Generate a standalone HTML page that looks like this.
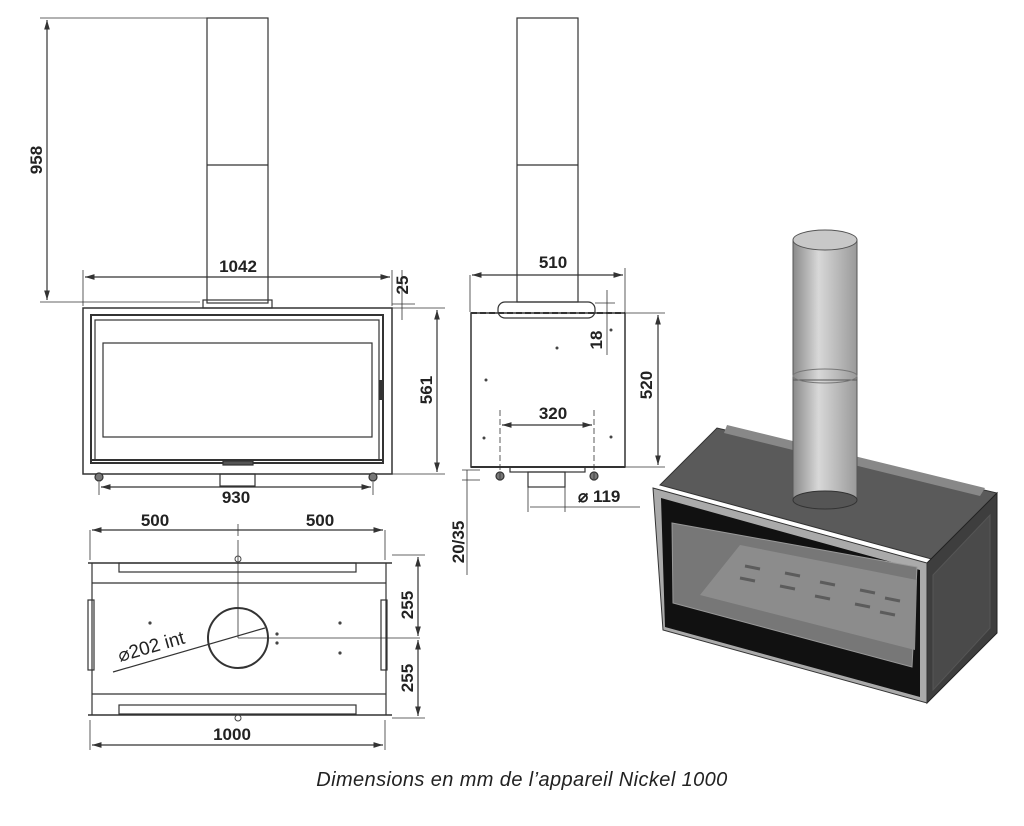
<!DOCTYPE html>
<html><head><meta charset="utf-8"><style>
html,body{margin:0;padding:0;background:#fff}
svg{display:block}
</style></head><body>
<svg width="1024" height="826" viewBox="0 0 1024 826" xmlns="http://www.w3.org/2000/svg" style="position:absolute;left:0;top:0">
<defs>
<marker id="a" viewBox="0 0 10 10" refX="10" refY="5" markerWidth="8" markerHeight="8" orient="auto-start-reverse"><path d="M0,2 L10,5 L0,8 z" fill="#333"/></marker>
<linearGradient id="cy" x1="0" x2="1"><stop offset="0" stop-color="#8a8a8a"/><stop offset=".4" stop-color="#d8d8d8"/><stop offset="1" stop-color="#9a9a9a"/></linearGradient>
</defs>
<g stroke="#333" fill="none" stroke-width="1.2">
<rect x="207" y="18" width="61" height="285"/>
<line x1="207" y1="165" x2="268" y2="165"/>
<rect x="203" y="300" width="69" height="8"/>
<rect x="83" y="308" width="309" height="166" stroke-width="1.5"/>
<rect x="91" y="315" width="292" height="148" stroke-width="2"/>
<rect x="95" y="320" width="284" height="140"/>
<rect x="103" y="343" width="269" height="94"/>
<line x1="91" y1="460" x2="383" y2="460" stroke-width="2"/>
<rect x="223" y="461" width="30" height="4" fill="#555"/>
<rect x="220" y="474" width="35" height="12"/>
<circle cx="99" cy="477" r="4" fill="#777"/><circle cx="373" cy="477" r="4" fill="#777"/>
<line x1="381" y1="380" x2="381" y2="400" stroke-width="3"/>
<line x1="47" y1="20" x2="47" y2="300" marker-start="url(#a)" marker-end="url(#a)"/>
<line x1="40" y1="18" x2="207" y2="18" stroke-width="0.8"/>
<line x1="40" y1="302" x2="200" y2="302" stroke-width="0.8"/>
<line x1="85" y1="277" x2="390" y2="277" marker-start="url(#a)" marker-end="url(#a)"/>
<line x1="83" y1="270" x2="83" y2="306" stroke-width="0.8"/><line x1="392" y1="270" x2="392" y2="306" stroke-width="0.8"/>
<line x1="402" y1="270" x2="402" y2="320" stroke-width="0.8"/>
<line x1="392" y1="304" x2="415" y2="304" stroke-width="0.8"/>
<line x1="437" y1="310" x2="437" y2="472" marker-start="url(#a)" marker-end="url(#a)"/>
<line x1="392" y1="308" x2="445" y2="308" stroke-width="0.8"/><line x1="392" y1="474" x2="445" y2="474" stroke-width="0.8"/>
<line x1="101" y1="487" x2="371" y2="487" marker-start="url(#a)" marker-end="url(#a)"/>
<line x1="99" y1="482" x2="99" y2="495" stroke-width="0.8"/><line x1="373" y1="482" x2="373" y2="495" stroke-width="0.8"/>

<rect x="517" y="18" width="61" height="284"/>
<line x1="517" y1="165" x2="578" y2="165"/>
<rect x="498" y="302" width="97" height="16" rx="7"/>
<rect x="471" y="313" width="154" height="154" stroke-width="1.5"/>
<line x1="471" y1="313" x2="625" y2="313" stroke-width="2" stroke-dasharray="6 3"/>
<line x1="471" y1="467" x2="625" y2="467" stroke-width="2"/>
<rect x="510" y="467" width="75" height="5"/>
<rect x="528" y="472" width="37" height="15"/>
<circle cx="500" cy="476" r="4" fill="#777"/><circle cx="594" cy="476" r="4" fill="#777"/>
<line x1="470" y1="275" x2="470" y2="312" stroke-width="0.8"/><line x1="625" y1="268" x2="625" y2="312" stroke-width="0.8"/>
<line x1="472" y1="275" x2="623" y2="275" marker-start="url(#a)" marker-end="url(#a)"/>
<line x1="607" y1="290" x2="607" y2="355" stroke-width="0.8"/>
<line x1="595" y1="303" x2="615" y2="303" stroke-width="0.8"/>
<line x1="625" y1="313" x2="665" y2="313" stroke-width="0.8"/><line x1="625" y1="467" x2="665" y2="467" stroke-width="0.8"/>
<line x1="658" y1="315" x2="658" y2="465" marker-start="url(#a)" marker-end="url(#a)"/>
<line x1="500" y1="410" x2="500" y2="480" stroke-dasharray="6 3" stroke-width="0.8"/>
<line x1="594" y1="410" x2="594" y2="480" stroke-dasharray="6 3" stroke-width="0.8"/>
<line x1="502" y1="425" x2="592" y2="425" marker-start="url(#a)" marker-end="url(#a)"/>
<line x1="528" y1="487" x2="528" y2="512" stroke-width="0.8"/><line x1="565" y1="487" x2="565" y2="512" stroke-width="0.8"/>
<line x1="530" y1="507" x2="640" y2="507" stroke-width="0.8"/>
<line x1="467" y1="470" x2="467" y2="575" stroke-width="0.8"/>
<line x1="462" y1="470" x2="480" y2="470" stroke-width="0.8"/><line x1="462" y1="480" x2="480" y2="480" stroke-width="0.8"/>

<line x1="88" y1="563" x2="392" y2="563" stroke-width="1.6"/>
<line x1="88" y1="715" x2="392" y2="715" stroke-width="1.6"/>
<line x1="92" y1="563" x2="92" y2="715"/><line x1="386" y1="563" x2="386" y2="715"/>
<line x1="92" y1="583" x2="386" y2="583"/><line x1="92" y1="694" x2="386" y2="694"/>
<rect x="119" y="563" width="237" height="9"/><rect x="119" y="705" width="237" height="9"/>
<rect x="88" y="600" width="6" height="70"/><rect x="381" y="600" width="6" height="70"/>
<circle cx="238" cy="638" r="30" stroke-width="2"/>
<line x1="238" y1="540" x2="238" y2="638" stroke-width="0.8"/>
<line x1="238" y1="638" x2="420" y2="638" stroke-width="0.8"/>
<line x1="113" y1="672" x2="265" y2="628"/>
<line x1="90" y1="530" x2="90" y2="560" stroke-width="0.8"/><line x1="385" y1="530" x2="385" y2="560" stroke-width="0.8"/>
<line x1="92" y1="530" x2="383" y2="530" marker-start="url(#a)" marker-end="url(#a)"/>
<line x1="238" y1="524" x2="238" y2="536" stroke-width="0.8"/>
<line x1="392" y1="555" x2="425" y2="555" stroke-width="0.8"/><line x1="392" y1="718" x2="425" y2="718" stroke-width="0.8"/>
<line x1="418" y1="557" x2="418" y2="636" marker-start="url(#a)" marker-end="url(#a)"/>
<line x1="418" y1="640" x2="418" y2="716" marker-start="url(#a)" marker-end="url(#a)"/>
<line x1="90" y1="720" x2="90" y2="750" stroke-width="0.8"/><line x1="385" y1="720" x2="385" y2="750" stroke-width="0.8"/>
<line x1="92" y1="745" x2="383" y2="745" marker-start="url(#a)" marker-end="url(#a)"/>
</g>
<g fill="#444">
<circle cx="150" cy="623" r="1.6"/><circle cx="340" cy="623" r="1.6"/><circle cx="340" cy="653" r="1.6"/><circle cx="277" cy="634" r="1.6"/><circle cx="277" cy="643" r="1.6"/>
<circle cx="238" cy="559" r="3" fill="none" stroke="#444"/><circle cx="238" cy="718" r="3" fill="none" stroke="#444"/>
<circle cx="486" cy="380" r="1.5"/><circle cx="557" cy="348" r="1.5"/><circle cx="611" cy="330" r="1.5"/><circle cx="484" cy="438" r="1.5"/><circle cx="611" cy="437" r="1.5"/>
</g>

<polygon points="660,485 717,428 997,493 935,560" fill="#5a5a5a" stroke="#333"/>
<polygon points="727,425 985,488 980,496 724,433" fill="#888"/>
<polygon points="927,563 997,493 997,633 927,703" fill="#3e3e3e" stroke="#222"/>
<polygon points="933,575 990,515 990,628 933,690" fill="#4a4a4a" stroke="#555"/>
<polygon points="653,488 927,563 927,703 663,630" fill="#aaa" stroke="#333"/>
<polygon points="661,498 920,570 920,697 665,627" fill="#111"/>
<polygon points="672,523 917,567 912,667 673,603" fill="#777" stroke="#999"/>
<polygon points="740,545 917,580 915,650 700,595" fill="#8c8c8c"/>
<g stroke="#5c5c5c" stroke-width="3">
<line x1="745" y1="566" x2="760" y2="569"/><line x1="740" y1="578" x2="755" y2="581"/><line x1="785" y1="573" x2="800" y2="576"/><line x1="780" y1="586" x2="795" y2="589"/>
<line x1="820" y1="582" x2="835" y2="585"/><line x1="815" y1="596" x2="830" y2="599"/><line x1="860" y1="590" x2="875" y2="593"/><line x1="855" y1="604" x2="870" y2="607"/>
<line x1="885" y1="598" x2="900" y2="601"/><line x1="880" y1="612" x2="895" y2="615"/>
</g>
<rect x="793" y="380" width="64" height="118" fill="url(#cy)" stroke="#555"/>
<ellipse cx="825" cy="500" rx="32" ry="9" fill="#555" stroke="#333"/>
<rect x="793" y="240" width="64" height="140" fill="url(#cy)" stroke="#555"/>
<ellipse cx="825" cy="376" rx="32" ry="7" fill="none" stroke="#777"/>
<ellipse cx="825" cy="240" rx="32" ry="10" fill="#c8c8c8" stroke="#555"/>

<g font-family="Liberation Sans, sans-serif" font-weight="bold" font-size="17" fill="#222">
<text transform="translate(42,160) rotate(-90)" text-anchor="middle">958</text>
<text x="238" y="272" text-anchor="middle">1042</text>
<text transform="translate(408,285) rotate(-90)" text-anchor="middle">25</text>
<text transform="translate(432,390) rotate(-90)" text-anchor="middle">561</text>
<text x="236" y="503" text-anchor="middle">930</text>
<text x="553" y="268" text-anchor="middle">510</text>
<text transform="translate(602,340) rotate(-90)" text-anchor="middle">18</text>
<text transform="translate(652,385) rotate(-90)" text-anchor="middle">520</text>
<text x="553" y="419" text-anchor="middle">320</text>
<text x="578" y="502">⌀ 119</text>
<text transform="translate(464,542) rotate(-90)" text-anchor="middle">20/35</text>
<text x="155" y="526" text-anchor="middle">500</text>
<text x="320" y="526" text-anchor="middle">500</text>
<text transform="translate(413,605) rotate(-90)" text-anchor="middle">255</text>
<text transform="translate(413,678) rotate(-90)" text-anchor="middle">255</text>
<text x="232" y="740" text-anchor="middle">1000</text>
<text transform="translate(120,662) rotate(-16)" font-weight="normal" font-size="19">⌀202 int</text>
</g>
<text x="522" y="786" text-anchor="middle" font-family="Liberation Sans, sans-serif" font-style="italic" font-size="20" letter-spacing="0.4" fill="#222">Dimensions en mm de l’appareil Nickel 1000</text>
</svg>
</body></html>
